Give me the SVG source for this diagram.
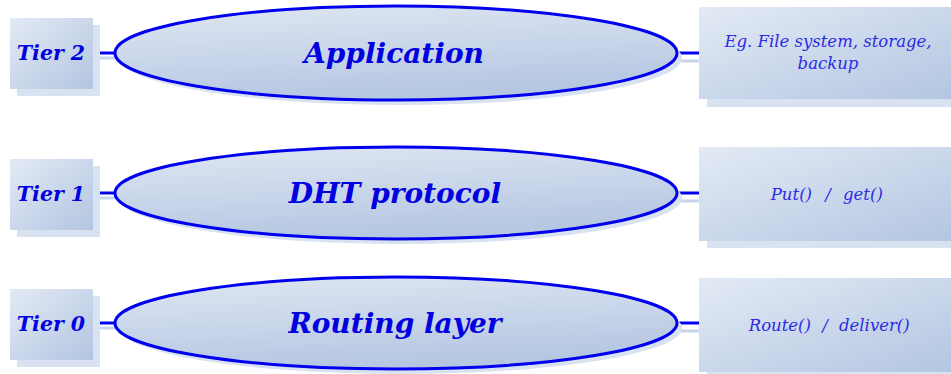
<svg xmlns="http://www.w3.org/2000/svg" width="951" height="374" viewBox="0 0 951 374">
  <defs>
    <linearGradient id="fill" x1="0" y1="0" x2="1" y2="1">
      <stop offset="0" stop-color="#e3eaf5"/>
      <stop offset="1" stop-color="#b3c5e1"/>
    </linearGradient>
    <linearGradient id="fillOval" x1="0" y1="0" x2="0.3" y2="1">
      <stop offset="0" stop-color="#e0e7f3"/>
      <stop offset="1" stop-color="#b6c7e2"/>
    </linearGradient>
  </defs>
  <style>
    .shadow { fill: #d9e2f1; }
    .box { fill: url(#fill); }
    .oval { fill: url(#fillOval); stroke: #0000ee; stroke-width: 3; }
    .link { stroke: #0000ee; stroke-width: 3; fill: none; }
    .linkShadow { stroke: #c7d4ea; stroke-width: 3; fill: none; }
    .tier { font-family: "DejaVu Serif", "Liberation Serif", serif; font-weight: bold; font-style: italic; font-size: 20.5px; fill: #0000e0; text-anchor: middle; }
    .layer { font-family: "DejaVu Serif", "Liberation Serif", serif; font-weight: bold; font-style: italic; font-size: 28px; fill: #0000e0; text-anchor: middle; }
    .note { font-family: "DejaVu Serif", "Liberation Serif", serif; font-style: italic; font-size: 16.5px; fill: #2b2be6; }
  </style>

  <!-- connectors: tier box to oval, oval to description box -->
  <g id="connectors">
    <line class="linkShadow" x1="97" y1="58" x2="118" y2="58"/>
    <line class="linkShadow" x1="97" y1="198" x2="118" y2="198"/>
    <line class="linkShadow" x1="97" y1="328" x2="118" y2="328"/>
    <line class="linkShadow" x1="680" y1="61" x2="707" y2="61"/>
    <line class="linkShadow" x1="680" y1="201" x2="707" y2="201"/>
    <line class="linkShadow" x1="680" y1="331" x2="707" y2="331"/>
    <line class="link" x1="92" y1="53" x2="116" y2="53"/>
    <line class="link" x1="677" y1="53" x2="700" y2="53"/>
    <line class="link" x1="92" y1="193" x2="116" y2="193"/>
    <line class="link" x1="677" y1="193" x2="700" y2="193"/>
    <line class="link" x1="92" y1="323" x2="116" y2="323"/>
    <line class="link" x1="677" y1="323" x2="700" y2="323"/>
  </g>

  <!-- Tier 2 -->
  <g id="tier2">
    <rect class="shadow" x="17" y="25" width="83" height="71"/>
    <rect class="box" x="10" y="18" width="83" height="71"/>
    <text class="tier" x="51" y="60">Tier 2</text>
  </g>
  <g id="application">
    <ellipse class="shadow" cx="401" cy="58" rx="281" ry="47"/>
    <ellipse class="oval" cx="396" cy="53" rx="281" ry="47"/>
    <text class="layer" x="394" y="63">Application</text>
  </g>
  <g id="application-use">
    <rect class="shadow" x="707" y="15" width="260" height="92"/>
    <rect class="box" x="699" y="7" width="260" height="92"/>
    <text class="note" x="828" y="47" text-anchor="middle">Eg. File system, storage,</text>
    <text class="note" x="828" y="69" text-anchor="middle">backup</text>
  </g>

  <!-- Tier 1 -->
  <g id="tier1">
    <rect class="shadow" x="17" y="166" width="83" height="71"/>
    <rect class="box" x="10" y="159" width="83" height="71"/>
    <text class="tier" x="51" y="201">Tier 1</text>
  </g>
  <g id="dht-protocol">
    <ellipse class="shadow" cx="401" cy="198" rx="281" ry="46"/>
    <ellipse class="oval" cx="396" cy="193" rx="281" ry="46"/>
    <text class="layer" x="395" y="203">DHT protocol</text>
  </g>
  <g id="dht-api">
    <rect class="shadow" x="707" y="155" width="260" height="93"/>
    <rect class="box" x="699" y="147" width="260" height="94"/>
    <text class="note" x="812" y="200" text-anchor="end">Put()</text>
    <text class="note" x="828" y="200" text-anchor="middle">/</text>
    <text class="note" x="843" y="200">get()</text>
  </g>

  <!-- Tier 0 -->
  <g id="tier0">
    <rect class="shadow" x="17" y="296" width="83" height="71"/>
    <rect class="box" x="10" y="289" width="83" height="71"/>
    <text class="tier" x="51" y="331">Tier 0</text>
  </g>
  <g id="routing-layer">
    <ellipse class="shadow" cx="401" cy="328" rx="281" ry="46"/>
    <ellipse class="oval" cx="396" cy="323" rx="281" ry="46"/>
    <text class="layer" x="395" y="333">Routing layer</text>
  </g>
  <g id="routing-api">
    <rect class="shadow" x="707" y="286" width="260" height="94"/>
    <rect class="box" x="699" y="278" width="260" height="94"/>
    <text class="note" x="811" y="331" text-anchor="end">Route()</text>
    <text class="note" x="825" y="331" text-anchor="middle">/</text>
    <text class="note" x="839" y="331">deliver()</text>
  </g>
</svg>
